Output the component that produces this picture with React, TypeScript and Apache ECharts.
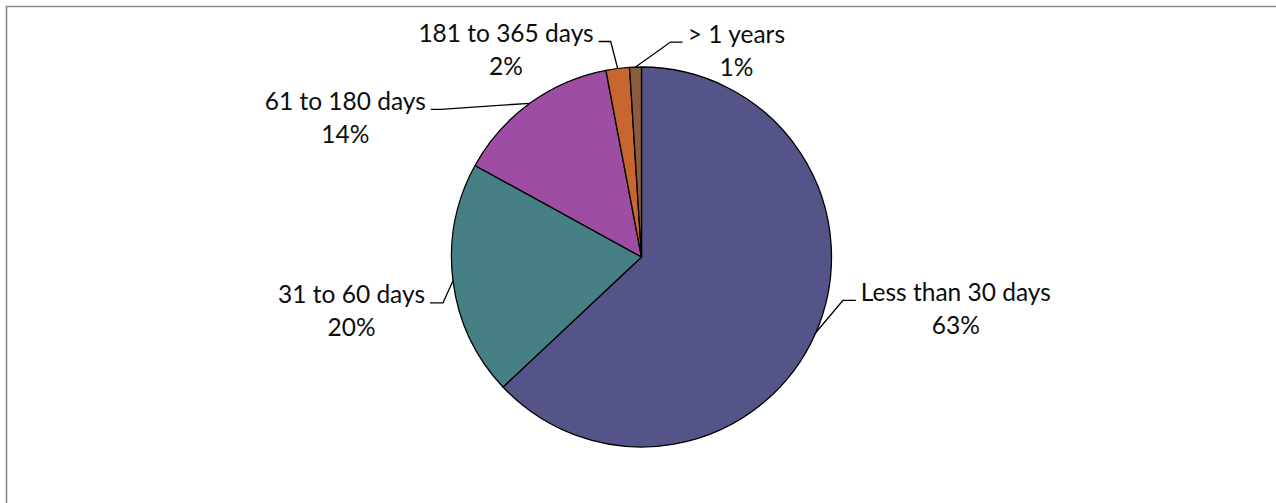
import React, { useEffect, useRef } from "react";
import * as echarts from "echarts";

// Ageing buckets and their shares (percent)
const categories = [
  "Less than 30 days",
  "31 to 60 days",
  "61 to 180 days",
  "181 to 365 days",
  "> 1 years",
];
const shares = [63, 20, 14, 2, 1];
const colors = ["#545489", "#468085", "#9e4ea2", "#c7662e", "#8b5d3e"];

// Leader-line geometry per slice: elbow offset from the arc anchor,
// then a short horizontal tail (negative = towards the left).
const elbowOffsets: [number, number][] = [
  [27, -32],
  [-10, 22],
  [-89, 6],
  [-7, -27],
  [35, -25],
];
const tailLengths = [13, -13, -10, -12, 12];

const FONT = "Lato, 'Open Sans', sans-serif";
const FONT_SIZE = 24.5;
const LINE_HEIGHT = 33;

export default function App() {
  const ref = useRef<HTMLDivElement>(null);

  useEffect(() => {
    if (!ref.current) return;
    const chart = echarts.init(ref.current, undefined, { renderer: "svg" });

    chart.setOption({
      animation: false,
      backgroundColor: "#ffffff",
      graphic: [
        {
          type: "rect",
          shape: { x: 6.5, y: 6.5, width: 1400, height: 700 },
          style: { fill: "none", stroke: "#8a8a8a", lineWidth: 1.6 },
          silent: true,
        },
      ],
      series: [
        {
          type: "pie",
          center: [641.5, 257],
          radius: 190,
          startAngle: 90,
          clockwise: true,
          avoidLabelOverlap: false,
          emphasis: { disabled: true },
          itemStyle: { borderColor: "#000000", borderWidth: 1.3 },
          label: {
            show: true,
            position: "outside",
            formatter: (p: any) => `${p.name}\n${Math.round(p.percent)}%`,
            fontFamily: FONT,
            fontSize: FONT_SIZE,
            lineHeight: LINE_HEIGHT,
            color: "#0d0d0d",
            align: "center",
          },
          labelLine: {
            show: true,
            length: 20,
            length2: 10,
            lineStyle: { color: "#000000", width: 1.3 },
          },
          labelLayout: (params: any) => {
            const i = params.dataIndex;
            const anchor = params.labelLinePoints
              ? params.labelLinePoints[0]
              : [params.rect.x, params.rect.y];
            const [ex, ey] = elbowOffsets[i];
            const tail = tailLengths[i];
            const elbow = [anchor[0] + ex, anchor[1] + ey];
            const end = [elbow[0] + tail, elbow[1]];
            const side = tail >= 0 ? 1 : -1;
            const w = params.labelRect.width;
            return {
              x: end[0] + side * (5 + w / 2),
              y: end[1] - 9 - LINE_HEIGHT / 2,
              align: "center",
              verticalAlign: "top",
              labelLinePoints: [anchor, elbow, end],
            };
          },
          data: categories.map((name, i) => ({
            name,
            value: shares[i],
            itemStyle: { color: colors[i] },
          })),
        },
      ],
    });

    return () => chart.dispose();
  }, []);

  return (
    <div
      ref={ref}
      style={{ position: "absolute", left: 0, top: 0, width: 1276, height: 503 }}
    />
  );
}
